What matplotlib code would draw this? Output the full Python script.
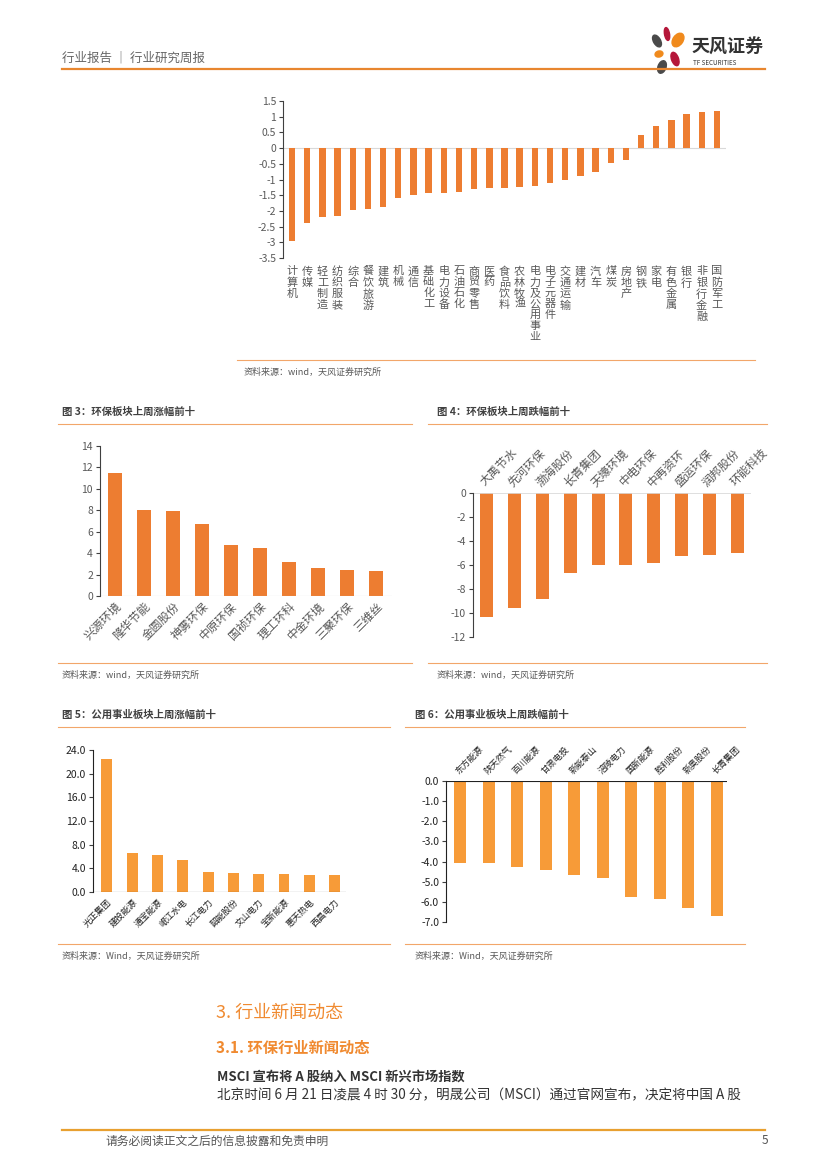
import matplotlib
matplotlib.use("Agg")
import matplotlib.pyplot as plt
from matplotlib.patches import Ellipse
from matplotlib.lines import Line2D

plt.rcParams['font.family'] = ['Noto Sans CJK SC', 'DejaVu Sans']
plt.rcParams['axes.unicode_minus'] = False

W, H = 827, 1169

# ---- data ----
ind_names = ['计算机', '传媒', '轻工制造', '纺织服装', '综合', '餐饮旅游', '建筑', '机械', '通信',
             '基础化工', '电力设备', '石油石化', '商贸零售', '医药', '食品饮料', '农林牧渔',
             '电力及公用事业', '电子元器件', '交通运输', '建材', '汽车', '煤炭', '房地产',
             '钢铁', '家电', '有色金属', '银行', '非银行金融', '国防军工']
ind_values = [-2.97, -2.37, -2.20, -2.17, -1.97, -1.95, -1.87, -1.60, -1.48,
              -1.43, -1.42, -1.40, -1.30, -1.27, -1.27, -1.24,
              -1.21, -1.10, -1.02, -0.89, -0.76, -0.46, -0.39,
              0.41, 0.71, 0.90, 1.10, 1.15, 1.18]

env_up_names = ['兴源环境', '隆华节能', '金圆股份', '神雾环保', '中原环保', '国祯环保',
                '理工环科', '中金环境', '三聚环保', '三维丝']
env_up_values = [11.5, 8.05, 7.97, 6.7, 4.8, 4.45, 3.2, 2.65, 2.45, 2.3]

env_down_names = ['大禹节水', '先河环保', '渤海股份', '长青集团', '天壕环境', '中电环保',
                  '中再资环', '盛运环保', '润邦股份', '环能科技']
env_down_values = [-10.35, -9.6, -8.85, -6.65, -6.0, -6.0, -5.8, -5.25, -5.15, -5.0]

util_up_names = ['光正集团', '建投能源', '通宝能源', '岷江水电', '长江电力', '韶能股份',
                 '文山电力', '宝新能源', '惠天热电', '西昌电力']
util_up_values = [22.4, 6.6, 6.2, 5.4, 3.4, 3.2, 3.0, 3.0, 2.9, 2.9]

util_down_names = ['东方能源', '陕天然气', '百川能源', '甘肃电投', '新能泰山', '涪陵电力',
                   '国新能源', '胜利股份', '新奥股份', '长青集团']
util_down_values = [-4.05, -4.05, -4.25, -4.4, -4.65, -4.8, -5.75, -5.85, -6.3, -6.7]

ORANGE = '#ED7D31'
LIGHT_ORANGE = '#F79B38'
LINE_ORANGE = '#F2A66A'
GRAY_TXT = '#595959'

fig = plt.figure(figsize=(W / 100, H / 100), dpi=100)


def fx(x):
    return x / W


def fy(y):
    return 1 - y / H


def hline(x0, x1, y, color=LINE_ORANGE, lw=0.8):
    fig.add_artist(Line2D([fx(x0), fx(x1)], [fy(y), fy(y)], color=color, lw=lw,
                          transform=fig.transFigure))


def text(x, y, s, **kw):
    fig.text(fx(x), fy(y), s, **kw)


def make_axes(x0, y0, x1, y1):
    ax = fig.add_axes([fx(x0), fy(y1), fx(x1) - fx(x0), fy(y0) - fy(y1)])
    for s in ['top', 'right', 'bottom']:
        ax.spines[s].set_visible(False)
    ax.spines['left'].set_color('#404040')
    ax.spines['left'].set_linewidth(0.8)
    ax.tick_params(axis='y', direction='out', length=3, width=0.8, color='#404040',
                   labelsize=7.5, labelcolor=GRAY_TXT, pad=2)
    ax.tick_params(axis='x', length=0)
    return ax


# ---- header ----
text(62, 58, '行业报告 ｜ 行业研究周报', fontsize=9, color='#666666', va='center')
hline(62, 765, 69, color='#E8862F', lw=1.6)

logo = fig.add_axes([fx(648), fy(74), fx(44), fy(0) - fy(48)])
logo.set_xlim(0, 44)
logo.set_ylim(0, 48)
logo.axis('off')
petals = [(19, 40, 5, 13, 10, '#B5173A'), (30, 34, 10, 15, -35, '#F08A1C'),
          (9, 33, 7, 13, 30, '#4A4A4A'), (11, 20, 8, 6, 15, '#F08A1C'),
          (27, 15, 7, 14, 20, '#B5173A'), (14, 7, 8, 13, -20, '#4A4A4A')]
for cx, cy, w, h, a, c in petals:
    logo.add_patch(Ellipse((cx, cy), w, h, angle=a, color=c))
text(692, 47, '天风证券', fontsize=13, fontweight='bold', color='#333333', va='center')
text(693, 63, 'TF SECURITIES', fontsize=4.5, color='#333333', va='center')

# ---- top chart: industries ----
ax = make_axes(283, 101, 726, 258)
x = range(len(ind_names))
ax.bar(x, ind_values, width=0.42, color=ORANGE)
ax.set_xlim(-0.6, len(ind_names) - 0.4)
ax.set_ylim(-3.5, 1.5)
yt = [1.5, 1, 0.5, 0, -0.5, -1, -1.5, -2, -2.5, -3, -3.5]
ax.set_yticks(yt)
ax.set_yticklabels(['%g' % v for v in yt])
ax.axhline(0, color='#D9D9D9', lw=0.8, zorder=0)
ax.set_xticks(list(x))
ax.set_xticklabels(['\n'.join(n) for n in ind_names], fontsize=8, color=GRAY_TXT,
                   va='top', linespacing=1.12)
ax.tick_params(axis='x', pad=6)
hline(237, 755, 360)
text(244, 372, '资料来源：wind，天风证券研究所', fontsize=6.5, color=GRAY_TXT, va='center')

# ---- chart 3 ----
text(62, 412, '图 3：环保板块上周涨幅前十', fontsize=7.5, fontweight='bold', color='#404040', va='center')
hline(58, 412, 424)
ax = make_axes(100, 446, 392, 596)
x = range(len(env_up_names))
ax.bar(x, env_up_values, width=0.48, color=ORANGE)
ax.set_xlim(-0.5, 9.55)
ax.set_ylim(0, 14)
ax.set_yticks(range(0, 15, 2))
ax.axhline(0, color='#BFBFBF', lw=0.8)
ax.set_xticks(list(x))
ax.set_xticklabels(env_up_names, rotation=45, ha='right', rotation_mode='anchor',
                   fontsize=8.5, color=GRAY_TXT)
ax.tick_params(axis='x', pad=3)
hline(58, 412, 663)
text(62, 675, '资料来源：wind，天风证券研究所', fontsize=6.5, color=GRAY_TXT, va='center')

# ---- chart 4 ----
text(437, 412, '图 4：环保板块上周跌幅前十', fontsize=7.5, fontweight='bold', color='#404040', va='center')
hline(428, 767, 424)
ax = make_axes(473, 493, 751, 637)
x = range(len(env_down_names))
ax.bar(x, env_down_values, width=0.47, color=ORANGE)
ax.set_xlim(-0.5, 9.5)
ax.set_ylim(-12, 0)
ax.set_yticks(range(-12, 1, 2))
ax.axhline(0, color='#D9D9D9', lw=1.2)
ax.xaxis.set_ticks_position('top')
ax.set_xticks(list(x))
ax.set_xticklabels(env_down_names, rotation=45, ha='left', rotation_mode='anchor',
                   fontsize=8.5, color=GRAY_TXT)
ax.tick_params(axis='x', pad=3)
hline(428, 767, 663)
text(437, 675, '资料来源：wind，天风证券研究所', fontsize=6.5, color=GRAY_TXT, va='center')

# ---- chart 5 ----
text(62, 715, '图 5：公用事业板块上周涨幅前十', fontsize=7.5, fontweight='bold', color='#404040', va='center')
hline(58, 390, 727)
ax = make_axes(93, 750, 346, 892)
x = range(len(util_up_names))
ax.bar(x, util_up_values, width=0.43, color=LIGHT_ORANGE)
ax.set_xlim(-0.55, 9.45)
ax.set_ylim(0, 24)
ax.set_yticks(range(0, 25, 4))
ax.set_yticklabels(['%.1f' % v for v in range(0, 25, 4)])
ax.tick_params(axis='y', labelcolor='#222222', labelsize=7.5)
ax.spines['left'].set_color('#222222')
ax.axhline(0, color='#222222', lw=0.8)
ax.set_xticks(list(x))
ax.set_xticklabels(util_up_names, rotation=45, ha='right', rotation_mode='anchor',
                   fontsize=6.3, color='#222222')
ax.tick_params(axis='x', pad=4)
hline(58, 390, 944)
text(62, 956, '资料来源：Wind，天风证券研究所', fontsize=6.5, color=GRAY_TXT, va='center')

# ---- chart 6 ----
text(415, 715, '图 6：公用事业板块上周跌幅前十', fontsize=7.5, fontweight='bold', color='#404040', va='center')
hline(405, 745, 727)
ax = make_axes(446, 781, 727, 922)
x = range(len(util_down_names))
ax.bar(x, util_down_values, width=0.42, color=LIGHT_ORANGE)
ax.set_xlim(-0.5, 9.35)
ax.set_ylim(-7, 0)
ax.set_yticks(range(-7, 1))
ax.set_yticklabels(['%.1f' % v for v in range(-7, 1)])
ax.tick_params(axis='y', labelcolor='#222222', labelsize=7.5)
ax.spines['left'].set_color('#222222')
ax.axhline(0, color='#222222', lw=0.8)
ax.xaxis.set_ticks_position('top')
ax.set_xticks(list(x))
ax.set_xticklabels(util_down_names, rotation=45, ha='left', rotation_mode='anchor',
                   fontsize=6.3, color='#222222')
ax.tick_params(axis='x', pad=4)
hline(405, 745, 944)
text(415, 956, '资料来源：Wind，天风证券研究所', fontsize=6.5, color=GRAY_TXT, va='center')

# ---- section text ----
text(216, 1013, '3. 行业新闻动态', fontsize=13, color='#F08A30', va='center')
text(216, 1048, '3.1. 环保行业新闻动态', fontsize=11, fontweight='bold', color='#F08A30', va='center')
text(217, 1077, 'MSCI 宣布将 A 股纳入 MSCI 新兴市场指数', fontsize=9.5, fontweight='bold',
     color='#333333', va='center')
text(217, 1095, '北京时间 6 月 21 日凌晨 4 时 30 分，明晟公司（MSCI）通过官网宣布，决定将中国 A 股',
     fontsize=9.8, color='#333333', va='center')

# ---- footer ----
hline(62, 765, 1130, color='#E8A030', lw=1.6)
text(105, 1141, '请务必阅读正文之后的信息披露和免责申明', fontsize=8.5, color='#555555', va='center')
text(762, 1141, '5', fontsize=8.5, color='#555555', va='center')

fig.savefig('out.png', dpi=100)
